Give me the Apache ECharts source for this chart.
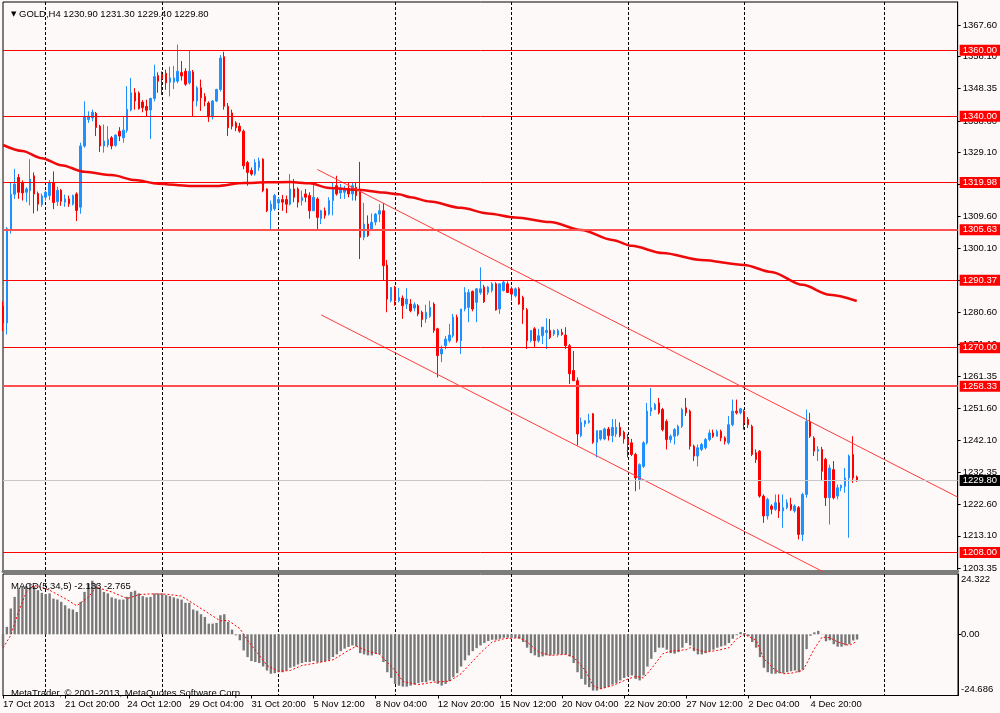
<!DOCTYPE html>
<html><head><meta charset="utf-8">
<script src="https://cdn.jsdelivr.net/npm/echarts@6/dist/echarts.min.js"></script>
<style>html,body{margin:0;padding:0;background:#fdf9f8;}#c{width:1000px;height:713px;}</style>
</head><body><div id="c"></div><script>
const FONT = '"Liberation Sans", Arial, sans-serif';

const tradingDays = ['17 Oct','18 Oct','21 Oct','22 Oct','23 Oct','24 Oct','25 Oct','28 Oct','29 Oct','30 Oct','31 Oct',
  '1 Nov','4 Nov','5 Nov','6 Nov','7 Nov','8 Nov','11 Nov','12 Nov','13 Nov','14 Nov','15 Nov','18 Nov','19 Nov','20 Nov',
  '21 Nov','22 Nov','25 Nov','26 Nov','27 Nov','28 Nov','29 Nov','2 Dec','3 Dec','4 Dec','5 Dec','6 Dec'];
const barHours = ['00:00','04:00','08:00','12:00','16:00','20:00'];
const futureSlots = 26;

const tickLabels = ['17 Oct 2013','21 Oct 20:00','24 Oct 12:00','29 Oct 04:00','31 Oct 20:00','5 Nov 12:00','8 Nov 04:00',
  '12 Nov 20:00','15 Nov 12:00','20 Nov 04:00','22 Nov 20:00','27 Nov 12:00','2 Dec 04:00','4 Dec 20:00'];
const weekStarts = [11, 41, 71, 101, 131, 161, 191, 227];

const priceTicks = [1367.60,1358.10,1348.35,1338.60,1329.10,1319.35,1309.60,1300.10,1290.35,1280.60,1271.10,
  1261.35,1251.60,1242.10,1232.35,1222.60,1213.10,1203.35];
const macdTicks = [24.322, 0, -24.686];

const levels = [1360.00, 1340.00, 1319.98, 1305.63, 1290.37, 1270.00, 1258.33, 1208.00];
const thickLevels = [1305.63, 1258.33];
const lastPrice = 1229.80;

const headerText = 'GOLD,H4 1230.90 1231.30 1229.40 1229.80';
const macdText = 'MACD(5,34,5) -2.133 -2.765';
const copyrightText = 'MetaTrader, \u00a9 2001-2013, MetaQuotes Software Corp.';

// [open, high, low, close]
const ohlc = [
[1282.5,1284.0,1275.0,1277.5],[1277.5,1306.5,1274.0,1306.0],[1305.8,1320.0,1304.5,1316.4],[1316.4,1324.1,1315.0,1319.5],
[1321.5,1322.5,1315.0,1317.0],[1320.0,1320.6,1314.5,1316.8],[1317.0,1318.5,1314.0,1318.0],[1317.5,1327.0,1313.0,1321.0],
[1322.0,1323.0,1310.6,1316.5],[1316.6,1317.2,1311.3,1313.4],
[1313.3,1316.6,1312.6,1315.9],[1315.5,1317.5,1314.5,1317.0],[1316.0,1320.7,1314.7,1319.9],[1320.0,1323.3,1311.9,1313.9],
[1314.2,1318.7,1312.9,1317.6],[1317.6,1318.0,1312.9,1314.3],[1314.0,1316.3,1312.6,1315.0],[1315.0,1316.0,1312.6,1313.5],
[1313.4,1316.3,1313.0,1316.0],[1316.5,1317.0,1308.3,1311.5],
[1312.5,1332.0,1310.5,1331.0],[1331.0,1344.5,1330.5,1340.0],[1339.0,1341.5,1338.0,1340.0],[1339.5,1342.0,1338.5,1341.2],
[1340.9,1341.3,1334.0,1336.6],[1337.0,1337.4,1329.2,1331.0],[1331.0,1337.5,1329.0,1332.5],[1331.3,1337.0,1330.6,1333.0],
[1333.5,1334.0,1330.0,1331.0],[1331.2,1334.5,1330.8,1334.3],
[1335.5,1336.7,1332.5,1334.0],[1333.5,1339.8,1332.0,1335.8],[1335.7,1349.1,1335.0,1342.1],[1341.9,1351.6,1341.5,1347.1],
[1347.1,1348.5,1342.0,1344.6],[1347.0,1347.5,1342.0,1342.3],[1344.3,1344.9,1341.2,1342.6],[1343.0,1345.0,1339.9,1341.8],
[1341.9,1345.6,1333.1,1345.4],[1345.4,1355.6,1344.5,1352.0],
[1352.3,1353.3,1347.1,1350.6],[1352.6,1353.6,1346.4,1351.3],[1353.0,1354.1,1348.0,1350.1],[1350.3,1355.0,1346.0,1351.6],
[1350.3,1355.2,1348.2,1351.6],[1350.6,1361.7,1350.0,1353.6],[1353.2,1356.7,1350.8,1352.2],[1353.6,1354.5,1349.2,1349.7],
[1350.1,1360.0,1349.6,1353.6],[1353.4,1354.0,1340.0,1344.6],
[1344.6,1349.1,1343.0,1348.6],[1348.6,1351.1,1341.6,1345.6],[1346.0,1347.0,1343.0,1344.5],[1344.0,1344.5,1338.3,1339.8],
[1339.8,1344.9,1339.0,1344.6],[1344.6,1348.3,1344.3,1348.1],[1348.1,1358.5,1347.5,1357.6],[1358.0,1359.5,1342.0,1343.0],
[1343.0,1344.0,1334.0,1336.5],[1341.0,1342.0,1336.0,1337.0],
[1338.0,1338.5,1335.5,1336.5],[1337.0,1338.0,1335.0,1335.5],[1335.5,1336.0,1324.0,1325.0],[1326.0,1326.5,1319.0,1323.0],
[1323.6,1324.5,1322.0,1322.5],[1322.5,1327.0,1322.0,1326.0],[1324.5,1327.5,1323.5,1326.5],[1327.0,1327.3,1317.0,1317.5],
[1318.0,1318.2,1311.0,1311.4],[1311.4,1314.5,1305.9,1313.4],
[1312.0,1316.5,1311.4,1316.0],[1313.8,1315.5,1312.0,1314.8],[1314.8,1316.2,1311.4,1314.0],[1314.8,1316.0,1310.7,1313.4],
[1313.4,1322.5,1313.0,1318.0],[1318.0,1321.0,1314.0,1315.5],[1318.0,1318.5,1312.4,1314.0],[1314.5,1317.5,1313.0,1315.5],
[1316.5,1318.0,1314.0,1315.5],[1316.0,1317.0,1309.0,1311.4],
[1311.4,1319.5,1311.4,1315.5],[1315.0,1315.5,1305.7,1309.4],[1309.0,1311.7,1307.4,1311.4],[1311.4,1312.4,1309.0,1310.0],
[1310.4,1315.5,1310.0,1314.5],[1314.5,1320.0,1310.0,1318.0],[1319.0,1322.0,1316.0,1316.5],[1316.8,1319.5,1315.0,1318.2],
[1317.0,1319.0,1315.0,1318.2],[1318.2,1320.0,1315.5,1316.5],
[1316.5,1320.0,1314.5,1319.0],[1318.5,1320.0,1314.5,1316.0],[1318.0,1326.2,1296.8,1303.4],[1303.4,1313.8,1302.5,1307.4],
[1307.4,1310.0,1303.5,1303.9],[1305.9,1310.6,1305.4,1307.9],[1308.0,1310.7,1307.0,1310.4],[1310.4,1313.4,1308.0,1311.4],
[1311.4,1313.8,1290.3,1294.8],[1295.0,1296.5,1280.7,1284.7],
[1284.2,1288.2,1283.7,1288.2],[1288.2,1288.7,1282.7,1284.2],[1284.2,1288.0,1283.7,1285.2],[1285.0,1285.8,1278.7,1282.7],
[1283.2,1288.0,1281.7,1284.7],[1283.2,1284.7,1280.7,1281.2],[1282.0,1283.7,1281.0,1283.0],[1282.7,1283.2,1279.5,1280.2],
[1280.7,1281.2,1276.2,1278.5],[1278.7,1283.0,1277.5,1280.7],
[1279.5,1284.2,1279.0,1282.2],[1283.2,1283.7,1274.5,1275.2],[1275.7,1276.0,1261.0,1267.6],[1268.1,1270.6,1265.6,1269.6],
[1270.6,1273.5,1269.5,1272.6],[1272.1,1277.2,1271.5,1273.8],[1273.6,1280.2,1273.0,1279.2],[1279.2,1280.0,1271.5,1272.1],
[1272.1,1281.7,1268.1,1281.7],[1281.7,1288.3,1281.0,1286.7],
[1282.2,1287.7,1277.7,1286.7],[1287.0,1287.3,1281.0,1281.7],[1283.7,1288.0,1277.7,1287.8],[1286.7,1294.3,1286.0,1287.8],
[1288.3,1289.0,1283.5,1283.9],[1286.7,1288.6,1286.0,1288.3],[1287.3,1289.8,1286.7,1289.3],[1289.3,1289.8,1281.2,1281.4],
[1281.7,1289.3,1280.2,1289.3],[1287.3,1290.4,1287.0,1289.8],
[1289.3,1290.0,1286.5,1286.7],[1287.8,1288.5,1284.2,1286.2],[1285.7,1288.2,1285.2,1287.8],[1287.8,1288.3,1283.0,1283.2],
[1285.2,1285.7,1277.2,1281.5],[1281.5,1282.0,1269.6,1272.1],[1272.1,1275.2,1271.6,1275.2],[1275.7,1276.2,1270.1,1272.1],
[1272.1,1275.7,1271.5,1273.6],[1273.6,1276.2,1271.1,1276.2],
[1274.6,1278.9,1269.6,1275.2],[1275.2,1278.7,1272.6,1273.1],[1274.1,1275.5,1273.5,1275.2],[1273.8,1275.7,1273.1,1275.2],
[1274.6,1275.7,1273.6,1274.0],[1273.8,1276.2,1269.6,1270.6],[1270.6,1271.1,1259.0,1262.1],[1263.1,1269.0,1260.0,1260.0],
[1260.0,1261.0,1240.4,1243.9],[1243.4,1248.9,1242.9,1247.4],
[1246.9,1248.0,1246.0,1247.9],[1247.4,1250.0,1247.0,1247.9],[1250.0,1250.2,1240.9,1241.4],[1241.4,1244.9,1236.8,1244.9],
[1242.4,1245.0,1241.9,1244.9],[1242.4,1245.8,1242.0,1245.4],[1245.4,1246.0,1241.9,1243.4],[1243.4,1248.4,1241.4,1245.9],
[1243.9,1248.4,1243.0,1245.9],[1245.9,1247.4,1242.9,1243.4],
[1244.4,1244.9,1241.0,1242.4],[1242.4,1243.9,1236.8,1240.9],[1241.2,1242.4,1237.2,1237.7],[1237.7,1238.2,1226.6,1230.6],
[1230.1,1235.0,1227.1,1234.6],[1234.1,1241.7,1233.6,1241.2],[1241.2,1253.3,1240.7,1250.8],[1250.8,1257.8,1249.3,1251.8],
[1251.3,1253.3,1251.1,1252.8],[1253.3,1254.8,1249.8,1250.3],
[1251.3,1251.8,1244.7,1245.2],[1247.7,1248.3,1239.2,1242.2],[1242.2,1243.7,1241.2,1243.2],[1243.2,1245.7,1240.7,1245.2],
[1243.7,1246.7,1243.2,1246.2],[1246.2,1251.8,1245.7,1251.3],[1251.8,1254.8,1249.3,1250.3],[1250.8,1251.3,1239.2,1240.2],
[1240.2,1240.7,1235.7,1237.2],[1237.2,1240.7,1234.1,1239.7],
[1239.2,1241.2,1238.7,1240.7],[1239.7,1242.7,1239.2,1242.2],[1242.2,1245.2,1241.7,1244.2],[1244.2,1245.2,1242.7,1243.2],
[1243.2,1245.2,1243.2,1244.7],[1244.7,1245.2,1241.7,1242.7],[1242.7,1243.2,1240.7,1241.7],[1241.2,1249.3,1240.7,1246.7],
[1246.7,1254.3,1246.2,1250.8],[1250.8,1254.3,1249.8,1250.3],
[1250.3,1251.8,1249.8,1251.5],[1250.8,1251.3,1245.2,1247.2],[1248.3,1249.0,1245.7,1246.7],[1246.2,1246.7,1237.2,1237.7],
[1238.2,1239.2,1235.1,1236.2],[1238.7,1239.0,1224.6,1225.1],[1225.1,1225.6,1217.0,1219.1],[1219.1,1224.6,1218.0,1224.1],
[1222.1,1222.6,1219.6,1221.1],[1221.1,1225.6,1220.6,1223.1],
[1223.1,1225.6,1218.5,1220.6],[1220.6,1225.6,1215.5,1221.6],[1221.6,1224.1,1221.1,1223.1],[1222.6,1224.6,1220.6,1221.1],
[1220.6,1222.6,1220.1,1222.1],[1221.6,1222.1,1212.0,1213.5],[1213.5,1226.1,1211.5,1225.6],[1225.6,1251.3,1224.6,1247.7],
[1247.7,1250.3,1242.7,1243.2],[1242.7,1243.2,1237.2,1238.7],
[1238.7,1240.2,1235.7,1239.2],[1239.2,1240.0,1229.6,1232.6],[1236.2,1236.7,1222.1,1224.6],[1224.6,1234.6,1216.5,1233.6],
[1233.1,1235.7,1224.1,1224.6],[1225.1,1228.6,1224.1,1227.6],[1227.6,1228.6,1226.6,1228.3],[1228.1,1233.6,1226.1,1230.6],
[1230.6,1237.7,1212.5,1237.2],[1237.7,1243.2,1229.1,1230.6],
[1230.9,1231.3,1229.4,1229.8]
];

// moving average: [bar index, price]
const maPoints = [[0,1331.3],[5,1329.5],[10,1327.3],[15,1325.2],[21,1323.2],[28,1322.2],[34,1320.7],[40,1319.6],
  [48,1318.9],[55,1318.9],[62,1319.8],[68,1320.0],[74,1320.1],[79,1319.7],[84,1318.3],[92,1317.7],[98,1316.9],
  [102,1316.4],[105,1315.5],[110,1314.2],[118,1312.3],[125,1310.6],[132,1309.4],[141,1308.0],[149,1305.6],
  [157,1302.6],[162,1300.8],[170,1298.6],[180,1296.5],[191,1295.0],[198,1292.9],[206,1289.0],[213,1286.0],[220,1284.1]];

const upperChannel = [[81, 1323.9], [246, 1224.8]];
const lowerChannel = [[82, 1279.9], [246, 1181.4]];

const macdHist = [
-4.9,3.0,10.4,15.1,18.5,19.2,19.4,20.3,19.4,17.8,
16.7,16.2,16.5,14.4,14.0,13.1,11.7,10.4,10.0,9.0,
13.1,17.1,20.5,21.6,20.3,18.5,17.1,16.5,14.9,14.4,
14.0,14.0,15.1,17.1,17.6,16.5,15.4,14.9,15.1,16.5,
16.5,16.5,15.8,15.4,14.9,14.4,14.0,12.7,12.7,10.0,
9.5,8.1,7.0,4.3,4.3,4.6,7.7,8.1,5.0,1.9,
-0.4,-2.4,-6.5,-9.2,-10.8,-11.2,-11.6,-13.0,-14.6,-15.9,
-15.7,-15.3,-15.3,-14.6,-13.5,-13.0,-12.2,-11.6,-11.2,-11.2,
-10.8,-11.2,-11.2,-10.8,-10.3,-9.2,-8.1,-6.8,-5.8,-5.1,
-4.5,-4.9,-7.6,-8.1,-8.5,-8.5,-7.8,-8.1,-11.2,-15.3,
-17.6,-20.0,-20.7,-21.1,-21.1,-20.7,-20.3,-19.7,-19.3,-19.3,
-18.6,-18.9,-20.0,-20.7,-20.0,-18.9,-17.3,-15.7,-13.0,-10.5,
-8.5,-6.8,-5.6,-4.5,-3.5,-2.7,-2.2,-2.2,-1.8,-1.4,
-1.4,-1.4,-1.4,-1.8,-3.1,-5.4,-7.6,-8.5,-9.2,-8.9,
-8.5,-8.5,-8.1,-8.1,-8.1,-8.1,-8.9,-11.6,-15.3,-18.0,
-20.3,-21.3,-22.7,-22.7,-22.0,-21.6,-21.1,-20.3,-19.7,-18.6,
-17.6,-17.0,-16.6,-18.0,-18.6,-16.6,-13.0,-9.9,-7.2,-5.4,
-5.4,-6.2,-7.6,-7.8,-7.2,-5.4,-3.5,-4.5,-6.8,-8.1,
-8.1,-7.6,-6.8,-6.2,-5.4,-4.9,-4.5,-3.5,-1.8,-0.4,
0.9,0.5,-0.8,-3.1,-5.4,-9.2,-13.5,-15.3,-15.9,-15.9,
-15.7,-15.7,-15.3,-14.9,-14.6,-15.3,-14.3,-6.0,-0.6,0.8,
1.4,0.1,-2.8,-2.4,-4.0,-5.0,-5.0,-4.5,-4.0,-2.5,
-2.133
];

// signal line: [bar index, value]
const macdSignal = [[0,-5.5],[2,-0.4],[4,9.0],[6,17.0],[8,19.8],[12,17.8],[16,14.4],[19,11.5],[22,15.0],[24,19.0],
  [28,17.1],[32,14.4],[35,16.0],[38,16.3],[42,16.2],[46,15.4],[49,12.4],[53,8.4],[56,5.4],[58,5.6],[61,2.3],[63,-2.4],
  [66,-8.5],[68,-12.6],[71,-14.9],[74,-14.6],[77,-12.6],[82,-11.2],[85,-10.3],[89,-6.5],[91,-4.8],[94,-6.8],[97,-8.1],
  [101,-14.6],[103,-19.0],[107,-20.3],[111,-19.3],[115,-18.9],[118,-15.9],[120,-12.5],[123,-7.5],[126,-3.1],[129,-1.8],
  [133,-1.4],[135,-3.1],[138,-7.2],[141,-8.5],[145,-8.1],[147,-9.2],[150,-14.6],[152,-20.7],[154,-22.0],[157,-20.7],
  [161,-18.0],[163,-17.0],[165,-17.6],[167,-13.9],[170,-7.8],[172,-6.8],[176,-6.2],[177,-5.4],[181,-7.2],[184,-6.5],
  [187,-5.4],[189,-1.8],[191,0.0],[194,-2.4],[196,-9.9],[199,-14.6],[201,-15.9],[203,-15.7],[206,-14.6],[207,-11.9],
  [209,-5.8],[211,-1.1],[213,-1.4],[215,-3.1],[218,-4.5],[220,-2.765]];

// ---- build ----
const categories = [];
tradingDays.forEach((d, di) => barHours.forEach((h, hi) => {
  if (di === 0 && hi === 0) return;
  categories.push(d + ' ' + h);
}));
for (let k = 1; k <= futureSlots; k++) categories.push('+' + k);

const isTick = (i) => i % 16 === 0 && i / 16 < tickLabels.length;
const isWeek = (i) => weekStarts.includes(i);
const gridLine = { show: true, interval: isWeek, lineStyle: { color: '#000', type: [3, 2], width: 1 } };
const txt = { fontFamily: FONT, fontSize: 9.5, color: '#000', fontWeight: 'normal' };

function macdLabel(v) {
  if (v === macdTicks[0]) return '\n' + v.toFixed(3);
  if (v === macdTicks[2]) return v.toFixed(3) + '\n ';
  return '0.00';
}

const chart = echarts.init(document.getElementById('c'), null, { renderer: 'canvas' });
chart.setOption({
  backgroundColor: '#fdf9f8',
  animation: false,
  textStyle: { fontFamily: FONT },
  title: [
    { left: 6, top: 4, text: '{t|\u25BC} ' + headerText,
      textStyle: Object.assign({}, txt, { rich: { t: { fontFamily: '"DejaVu Sans"', fontSize: 7, color: '#000' } } }) },
    { left: 6, top: 576, text: macdText, textStyle: txt },
    { left: 6, top: 683, text: copyrightText, textStyle: txt }
  ],
  grid: [
    { left: 3, right: 42, top: 2, height: 569, show: true, borderColor: '#000', borderWidth: 1 },
    { left: 3, right: 42, top: 574, height: 121.5, show: true, borderColor: '#000', borderWidth: 1 }
  ],
  xAxis: [
    { type: 'category', gridIndex: 0, data: categories, boundaryGap: false,
      axisLine: { show: true, onZero: false, lineStyle: { color: '#7c7c7c', width: 3 } },
      axisTick: { show: false }, axisLabel: { show: false }, splitLine: gridLine },
    { type: 'category', gridIndex: 1, data: categories, boundaryGap: false,
      axisLine: { show: true, onZero: false, lineStyle: { color: '#000' } },
      axisTick: { show: true, interval: isTick, length: 3, lineStyle: { color: '#000' } },
      axisLabel: Object.assign({ show: true, interval: isTick, align: 'left', margin: 4,
        formatter: (v, i) => tickLabels[i / 16] || '' }, txt),
      splitLine: gridLine }
  ],
  yAxis: [
    { type: 'value', gridIndex: 0, position: 'right', min: 1202.44, max: 1374.56, scale: true,
      splitLine: { show: false },
      axisLine: { show: true, lineStyle: { color: '#000' } },
      axisTick: { show: true, length: 3, customValues: priceTicks, lineStyle: { color: '#000' } },
      axisLabel: Object.assign({ customValues: priceTicks, margin: 5, formatter: v => v.toFixed(2) }, txt) },
    { type: 'value', gridIndex: 1, position: 'right', min: macdTicks[2], max: macdTicks[0],
      splitLine: { show: false },
      axisLine: { show: true, lineStyle: { color: '#000' } },
      axisTick: { show: true, length: 3, customValues: [0], lineStyle: { color: '#000' } },
      axisLabel: Object.assign({ customValues: macdTicks, margin: 3, lineHeight: 11.5,
        formatter: macdLabel }, txt) }
  ],
  series: [
    { type: 'line', xAxisIndex: 0, yAxisIndex: 0, data: [], z: 1, silent: true,
      markLine: { silent: true, symbol: ['none', 'none'], animation: false,
        lineStyle: { color: '#c8c8c8', width: 1, type: 'solid' },
        label: { position: 'end', distance: 2, formatter: p => p.value.toFixed(2), color: '#fff',
          backgroundColor: '#000', padding: [1, 3, 0, 3], fontFamily: FONT, fontSize: 9.5 },
        data: [{ yAxis: lastPrice }] } },
    { type: 'candlestick', xAxisIndex: 0, yAxisIndex: 0, barWidth: 2, clip: true,
      data: ohlc.map(r => [r[0], r[3], r[2], r[1]]),
      itemStyle: { color: '#1e90ff', color0: '#ff0000', borderColor: '#1e90ff', borderColor0: '#ff0000', borderWidth: 1 },
      markLine: { silent: true, symbol: ['none', 'none'], animation: false,
        label: { position: 'end', distance: 2, formatter: p => p.value.toFixed(2), color: '#fff',
          backgroundColor: '#ff0000', padding: [1, 3, 0, 3], fontFamily: FONT, fontSize: 9.5 },
        data: levels.map(v => ({ yAxis: v,
          lineStyle: thickLevels.includes(v) ? { color: '#ff5050', width: 2, type: 'solid' } : { color: '#ff0000', width: 1, type: 'solid' } })) } },
    { type: 'line', xAxisIndex: 0, yAxisIndex: 0, data: maPoints, symbol: 'none', smooth: 0.3, smoothMonotone: 'x',
      lineStyle: { color: '#ee0a0a', width: 2.5 }, silent: true, z: 3 },
    { type: 'line', xAxisIndex: 0, yAxisIndex: 0, data: upperChannel, symbol: 'none', clip: true,
      lineStyle: { color: '#ff3c3c', width: 1 }, silent: true },
    { type: 'line', xAxisIndex: 0, yAxisIndex: 0, data: lowerChannel, symbol: 'none', clip: true,
      lineStyle: { color: '#ff3c3c', width: 1 }, silent: true },
    { type: 'bar', xAxisIndex: 1, yAxisIndex: 1, data: macdHist, barWidth: 2.4,
      itemStyle: { color: '#787878' }, silent: true },
    { type: 'line', xAxisIndex: 1, yAxisIndex: 1, data: macdSignal, symbol: 'none',
      lineStyle: { color: '#ff0000', width: 1, type: [2, 2] }, silent: true, z: 3 }
  ]
});
</script></body></html>
